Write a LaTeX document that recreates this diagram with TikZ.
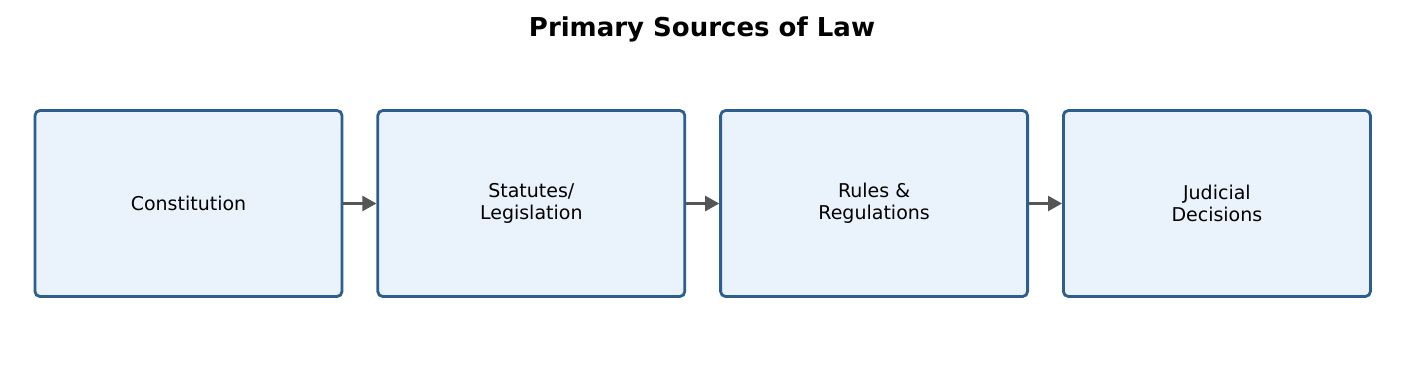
\documentclass[tikz,border=0pt]{standalone}
\usepackage{fontspec}
\setmainfont{DejaVu Sans}
\usetikzlibrary{arrows.meta,positioning}

\definecolor{boxline}{HTML}{2C5F8E}
\definecolor{boxfill}{HTML}{EAF2FB}
\definecolor{arrowgray}{HTML}{555555}

\begin{document}
\begin{tikzpicture}[
    >={Triangle[length=7pt,width=7.5pt]},
    node distance=16.5pt,
    box/.style={draw=boxline, fill=boxfill, line width=1.4pt, rounded corners=2.5pt,
        minimum width=153.5pt, minimum height=93pt, align=center,
        font=\fontsize{9.5pt}{11pt}\selectfont},
    flow/.style={->, draw=arrowgray, line width=1.2pt}
]

\useasboundingbox (0,0) rectangle (702pt,-182.5pt);

% Titulo
\node[font=\fontsize{13pt}{15pt}\selectfont\bfseries] (title) at (351pt,-14.5pt) {Primary Sources of Law};

% Bloques
\node[box] (const) at (94.25pt,-101.75pt) {Constitution};
\node[box, right=of const] (statutes) {Statutes/\\Legislation};
\node[box, right=of statutes] (rules) {Rules \&\\Regulations};
\node[box, right=of rules] (judicial) {Judicial\\Decisions};

% Conexiones
\draw[flow] (const) -- (statutes);
\draw[flow] (statutes) -- (rules);
\draw[flow] (rules) -- (judicial);

\end{tikzpicture}
\end{document}
